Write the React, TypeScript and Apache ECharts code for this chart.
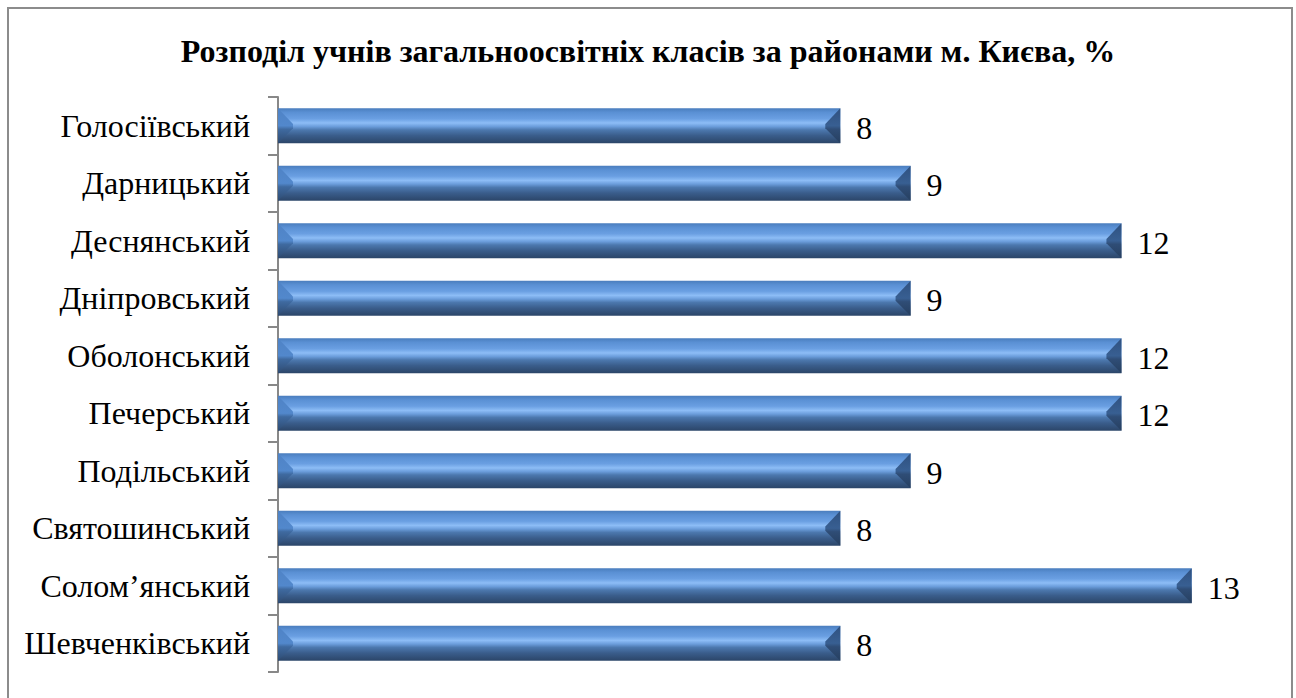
import React, { useEffect, useRef } from "react";
import * as echarts from "echarts";

const title = "Розподіл учнів загальноосвітніх класів за районами м. Києва, %";
const categories = [
  "Голосіївський",
  "Дарницький",
  "Деснянський",
  "Дніпровський",
  "Оболонський",
  "Печерський",
  "Подільський",
  "Святошинський",
  "Солом’янський",
  "Шевченківський",
];
const values = [8, 9, 12, 9, 12, 12, 9, 8, 13, 8];

const FONT = "'Liberation Serif', 'Times New Roman', serif";

export default function App() {
  const ref = useRef<HTMLDivElement>(null);
  useEffect(() => {
    if (!ref.current) return;
    const chart = echarts.init(ref.current, undefined, { renderer: "svg" });
    const faceGrad = () =>
      new echarts.graphic.LinearGradient(0, 0, 0, 1, [
        { offset: 0, color: "#4a7dbd" },
        { offset: 0.12, color: "#5a90d4" },
        { offset: 0.3, color: "#6a9fe2" },
        { offset: 0.42, color: "#8dbdf6" },
        { offset: 0.52, color: "#6c9edc" },
        { offset: 0.62, color: "#4c78ae" },
        { offset: 0.78, color: "#3a5d8b" },
        { offset: 1, color: "#2b4568" },
      ]);
    chart.setOption({
      animation: false,
      title: {
        text: title,
        left: "center",
        top: 30,
        textStyle: { fontFamily: FONT, fontSize: 32, fontWeight: "bold", color: "#000" },
      },
      graphic: [
        {
          type: "rect",
          shape: { x: 8, y: 8, width: 1284, height: 700 },
          style: { fill: "none", stroke: "#8c8c8c", lineWidth: 2 },
          silent: true,
        },
      ],
      grid: { left: 278, right: 34, top: 97, height: 575 },
      xAxis: { type: "value", min: 0, max: 14, show: false },
      yAxis: {
        type: "category",
        data: categories,
        inverse: true,
        axisLine: { show: true, lineStyle: { color: "#888", width: 2 } },
        axisTick: { show: true, length: 10, lineStyle: { color: "#888", width: 2 } },
        axisLabel: { fontFamily: FONT, fontSize: 32, color: "#000", margin: 28 },
      },
      series: [
        {
          type: "custom",
          encode: { x: 0, y: 1 },
          data: values.map((v, i) => [v, i]),
          renderItem: (params: any, api: any) => {
            const v = api.value(0);
            const idx = api.value(1);
            const s = api.coord([0, idx]);
            const e = api.coord([v, idx]);
            const band = api.size([0, 1])[1];
            const h = band * 0.61;
            const x0 = s[0];
            const x1 = e[0];
            const y0 = s[1] - h / 2;
            const y1 = s[1] + h / 2;
            const ym = s[1] - h * 0.05;
            const bev = 15;
            return {
              type: "group",
              children: [
                {
                  type: "rect",
                  shape: { x: x0, y: y0, width: x1 - x0, height: h },
                  style: { fill: faceGrad() },
                },
                {
                  type: "polygon",
                  shape: { points: [[x0, y0], [x0 + bev, ym], [x0 + bev, ym + h * 0.12], [x0, y1]] },
                  style: {
                    fill: new echarts.graphic.LinearGradient(0, 0, 0, 1, [
                      { offset: 0, color: "#4f83c6" },
                      { offset: 0.5, color: "#5288cc" },
                      { offset: 0.6, color: "#3f6aa0" },
                      { offset: 1, color: "#2e4b72" },
                    ]),
                  },
                },
                {
                  type: "polygon",
                  shape: { points: [[x1, y0], [x1 - bev, ym], [x1 - bev, ym + h * 0.12], [x1, y1]] },
                  style: {
                    fill: new echarts.graphic.LinearGradient(0, 0, 0, 1, [
                      { offset: 0, color: "#2f5180" },
                      { offset: 0.5, color: "#385f92" },
                      { offset: 0.6, color: "#2f4d76" },
                      { offset: 1, color: "#263f60" },
                    ]),
                  },
                },
                {
                  type: "text",
                  style: {
                    x: x1 + 16,
                    y: s[1] + 2,
                    text: String(v),
                    font: `32px ${FONT}`,
                    fill: "#000",
                    verticalAlign: "middle",
                    align: "left",
                  },
                },
              ],
            };
          },
        },
      ],
    });
    return () => chart.dispose();
  }, []);
  return (
    <div
      ref={ref}
      style={{ position: "absolute", left: 0, top: 0, width: 1296, height: 698, background: "#fff" }}
    />
  );
}
